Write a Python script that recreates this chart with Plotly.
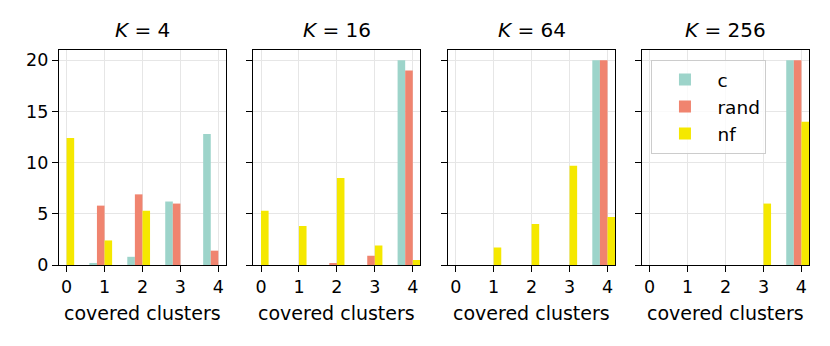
import plotly.graph_objects as go
from plotly.subplots import make_subplots

ks = [4, 16, 64, 256]
clusters = [0, 1, 2, 3, 4]
series_names = ["c", "rand", "nf"]
series_colors = ["#9dd4ca", "#f0846f", "#f5e800"]
c_vals = [
    [0.0, 0.2, 0.8, 6.2, 12.8],
    [0.0, 0.0, 0.0, 0.0, 20.0],
    [0.0, 0.0, 0.0, 0.0, 20.0],
    [0.0, 0.0, 0.0, 0.0, 20.0],
]
rand_vals = [
    [0.0, 5.8, 6.9, 6.0, 1.4],
    [0.0, 0.0, 0.2, 0.9, 19.0],
    [0.0, 0.0, 0.0, 0.0, 20.0],
    [0.0, 0.0, 0.0, 0.0, 20.0],
]
nf_vals = [
    [12.4, 2.4, 5.3, 0.0, 0.0],
    [5.3, 3.8, 8.5, 1.9, 0.5],
    [0.0, 1.7, 4.0, 9.7, 4.7],
    [0.0, 0.0, 0.0, 6.0, 14.0],
]
y_ticks = [0, 5, 10, 15, 20]

# page body adds an 8px margin, so figure coords = screen coords - 8
OFF = 8
W, H = 814, 330
ML, MT = 59 - OFF, 50 - OFF
MR = W - (809.3 - OFF)
MB = H - (265.3 - OFF)
pw = W - ML - MR
ph = H - MT - MB
starts = [0, 194.5, 389.3, 583.3]
panel_w = 167

FONT = "DejaVu Sans"

fig = make_subplots(rows=1, cols=4, shared_yaxes=False, horizontal_spacing=0.02)

offsets = [-0.4, -0.2, 0.0]
for i, k in enumerate(ks):
    for j, vals in enumerate([c_vals[i], rand_vals[i], nf_vals[i]]):
        fig.add_trace(go.Bar(
            x=clusters, y=vals, width=0.2, offset=offsets[j],
            marker=dict(color=series_colors[j], line=dict(width=0)),
            name=series_names[j], showlegend=(i == 3),
            legendgroup=series_names[j],
        ), row=1, col=i + 1)

for i, k in enumerate(ks):
    x0 = starts[i] / pw
    x1 = min((starts[i] + panel_w) / pw, 1.0)
    xa = "xaxis" if i == 0 else f"xaxis{i + 1}"
    ya = "yaxis" if i == 0 else f"yaxis{i + 1}"
    fig.layout[xa].update(
        domain=[x0, x1], range=[-0.2, 4.2], tickvals=clusters,
        ticks="outside", ticklen=6, tickwidth=1.3, tickcolor="black",
        showline=True, mirror=True, linecolor="black", linewidth=1.3,
        showgrid=True, gridcolor="#e6e6e6", gridwidth=1, zeroline=False,
        tickfont=dict(family=FONT, size=17.5, color="black"),
    )
    fig.layout[ya].update(
        range=[0, 21], tickvals=y_ticks,
        ticks="outside", ticklen=6, tickwidth=1.3, tickcolor="black",
        showline=True, mirror=True, linecolor="black", linewidth=1.3,
        showgrid=True, gridcolor="#e6e6e6", gridwidth=1, zeroline=False,
        showticklabels=(i == 0),
        tickfont=dict(family=FONT, size=17.5, color="black"),
    )
    cx = (x0 + x1) / 2
    fig.add_annotation(
        x=cx, y=1 + 20 / ph, xref="paper", yref="paper",
        text=f"<i>K</i> = {k}", showarrow=False,
        font=dict(family=FONT, size=20, color="black"),
        xanchor="center", yanchor="middle",
    )
    fig.add_annotation(
        x=cx, y=-48 / ph, xref="paper", yref="paper",
        text="covered clusters", showarrow=False,
        font=dict(family=FONT, size=19, color="black"),
        xanchor="center", yanchor="middle",
    )

fig.update_layout(
    width=W, height=H, barmode="overlay",
    margin=dict(l=ML, r=MR, t=MT, b=MB),
    plot_bgcolor="white", paper_bgcolor="white",
    font=dict(family=FONT, size=18, color="black"),
    legend=dict(
        x=(651.7 - OFF - ML) / pw, y=1 - (60 - OFF - MT) / ph,
        xanchor="left", yanchor="top",
        bgcolor="rgba(255,255,255,0.8)", bordercolor="#cccccc", borderwidth=1,
        font=dict(family=FONT, size=18.5, color="black"),
        itemwidth=55, itemsizing="constant", tracegroupgap=0,
    ),
)

fig.write_html("out.html")
